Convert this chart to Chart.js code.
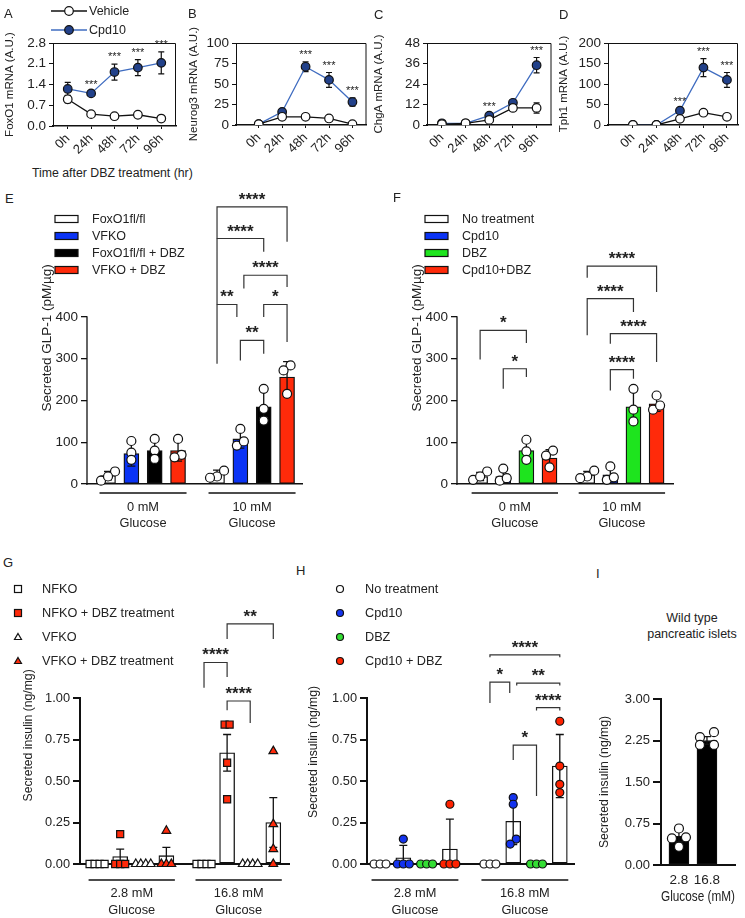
<!DOCTYPE html>
<html>
<head>
<meta charset="utf-8">
<title>FoxO1 / DBZ figure</title>
<script src="https://cdn.jsdelivr.net/npm/chart.js@4.4.1/dist/chart.umd.min.js"></script>
<style>
  html, body { margin: 0; padding: 0; background: #fff; }
  body { position: relative; width: 745px; height: 918px; overflow: hidden; font-family: "Liberation Sans", Arial, sans-serif; color: #222; }
  canvas { position: absolute; }
  .t { position: absolute; white-space: nowrap; line-height: 1; }
  svg { position: absolute; left: 0; top: 0; }
</style>
</head>
<body>
<script>
// ---- A-D: mRNA time course after DBZ
const timeLabels = ['0h', '24h', '48h', '72h', '96h'];
const foxo1Veh = [0.9, 0.4, 0.33, 0.38, 0.25];
const foxo1VehErr = [0.12, 0.04, 0.03, 0.04, 0.03];
const foxo1Cpd = [1.25, 1.1, 1.82, 1.97, 2.13];
const foxo1CpdErr = [0.22, 0.06, 0.27, 0.27, 0.37];
const neurog3Veh = [1, 10, 10, 8, 1];
const neurog3VehErr = [0.5, 1, 1, 1, 0.5];
const neurog3Cpd = [1, 16, 71, 55, 28];
const neurog3CpdErr = [0.5, 2, 6, 9, 5];
const chgaVeh = [0.5, 1, 3, 10, 10];
const chgaVehErr = [0.3, 0.3, 0.5, 1, 3];
const chgaCpd = [1, 1, 5.5, 13, 35];
const chgaCpdErr = [0.3, 0.3, 1, 1, 4.5];
const tph1Veh = [0, 0, 15, 30, 20];
const tph1VehErr = [0, 0, 2, 3, 3];
const tph1Cpd = [0, 0, 35, 140, 110];
const tph1CpdErr = [0, 0, 5, 22, 18];
const starsA = ['', '***', '***', '***', '***'];
const starsB = ['', '', '***', '***', '***'];
const starsC = ['', '', '***', '', '***'];
const starsD = ['', '', '***', '***', '***'];

// ---- E: GLP-1 secretion, genotype x DBZ   [series][glucose group]
const glucoseEF = [['0 mM', 'Glucose'], ['10 mM', 'Glucose']];
const groupsE = ['FoxO1fl/fl', 'VFKO', 'FoxO1fl/fl + DBZ', 'VFKO + DBZ'];
const meanE = [[20, 25], [73, 108], [80, 185], [80, 256]];
const sdE = [[10, 8], [30, 22], [25, 40], [25, 37]];
const ptsE = [
  [[30, 8, 18], [32, 18, 15]],
  [[103, 75, 58], [132, 92, 102]],
  [[108, 80, 60], [228, 180, 152]],
  [[108, 70, 64], [284, 272, 216]]
];
// [group, from bar, to bar, bracket y, left leg end, right leg end, label]
const sigE = [
  [1, 0, 3, 664, 588, 580, '****'],
  [1, 0, 2, 588, 430, 556, '****'],
  [1, 1.15, 3, 500, 468, 472, '****'],
  [1, 0, 0.85, 430, 288, 400, '**'],
  [1, 2, 3, 430, 400, 340, '*'],
  [1, 1, 2, 344, 296, 312, '**']
];

// ---- F: GLP-1 secretion, Cpd10 x DBZ
const groupsF = ['No treatment', 'Cpd10', 'DBZ', 'Cpd10+DBZ'];
const meanF = [[18, 22], [18, 22], [80, 185], [62, 192]];
const sdF = [[10, 8], [14, 16], [25, 38], [20, 18]];
const ptsF = [
  [[30, 10, 18], [32, 18, 14]],
  [[37, 8, 14], [42, 10, 16]],
  [[106, 78, 58], [228, 178, 150]],
  [[80, 68, 40], [212, 178, 188]]
];
const sigF = [
  [0, 0, 2, 368, 298, 338, '*'],
  [0, 1, 2, 276, 228, 256, '*'],
  [1, 0, 3, 522, 494, 460, '****'],
  [1, 0, 2, 444, 356, 412, '****'],
  [1, 1, 3, 360, 336, 292, '****'],
  [1, 1, 2, 274, 224, 252, '****']
];

// ---- G: insulin secretion, NFKO / VFKO
const glucoseGH = [['2.8 mM', 'Glucose'], ['16.8 mM', 'Glucose']];
const groupsG = ['NFKO', 'NFKO + DBZ treatment', 'VFKO', 'VFKO + DBZ treatment'];
const meanG = [[0, 0], [0.045, 0.67], [0, 0], [0.05, 0.25]];
const semG = [[0, 0], [0.045, 0.11], [0, 0], [0.05, 0.15]];
const ptsG = [
  [[0, 0, 0, 0], [0, 0, 0, 0]],
  [[0.18, 0, 0, 0], [0.84, 0.84, 0.61, 0.39]],
  [[0, 0, 0, 0], [0, 0, 0, 0]],
  [[0.2, 0, 0, 0], [0.68, 0.24, 0.09, 0]]
];
const sigG = [
  [1, 1, 3, 1.446, 1.356, 1.356, '**'],
  [1, 0, 1, 1.214, 1.062, 1.126, '****'],
  [1, 1, 2, 0.982, 0.926, 0.85, '****']
];

// ---- H: insulin secretion, Cpd10 x DBZ
const groupsH = ['No treatment', 'Cpd10', 'DBZ', 'Cpd10 + DBZ'];
const meanH = [[0, 0], [0.0375, 0.2575], [0, 0], [0.09, 0.59]];
const sdH = [[0, 0], [0.075, 0.14], [0, 0], [0.18, 0.19]];
const ptsH = [
  [[0, 0, 0], [0, 0, 0]],
  [[0.15, 0, 0, 0], [0.40, 0.36, 0.15, 0.12]],
  [[0, 0, 0], [0, 0, 0]],
  [[0.36, 0, 0, 0], [0.86, 0.59, 0.48, 0.43]]
];
const sigH = [
  [1, 0, 3, 1.26, 1.245, 1.245, '****'],
  [1, 0, 0.85, 1.096, 0.97, 1.03, '*'],
  [1, 1.15, 3, 1.09, 1.075, 1.075, '**'],
  [1, 2, 3, 0.942, 0.925, 0.925, '****'],
  [1, 1, 2, 0.716, 0.626, 0.41, '*']
];

// ---- I: wild type islets
const glucoseI = ['2.8', '16.8'];
const meanI = [[0.52, 2.25]];
const semI = [[0.1, 0.07]];
const ptsI = [[[0.66, 0.50, 0.48, 0.33], [2.31, 2.40, 2.17, 2.17]]];

const FONT = '"Liberation Sans", Arial, Helvetica, sans-serif';
Chart.defaults.font.family = FONT;
Chart.defaults.color = '#222';
Chart.defaults.animation = false;
Chart.defaults.responsive = false;
Chart.defaults.events = [];
Chart.defaults.plugins.legend.display = false;
Chart.defaults.plugins.tooltip.enabled = false;

function makeCanvas([left, top, w, h]) {
  const c = document.createElement('canvas');
  c.width = w; c.height = h;
  c.style.left = left + 'px'; c.style.top = top + 'px';
  c.style.width = w + 'px'; c.style.height = h + 'px';
  document.body.appendChild(c);
  return c;
}

function whisker(ctx, px, y0, y1, cap) {
  ctx.beginPath();
  ctx.moveTo(px, y0); ctx.lineTo(px, y1);
  ctx.moveTo(px - cap, y1); ctx.lineTo(px + cap, y1);
  ctx.moveTo(px - cap, y0); ctx.lineTo(px + cap, y0);
  ctx.stroke();
}

// error bars under the markers, frame + stars on top
const timecourse = {
  id: 'timecourse',
  beforeDatasetsDraw(chart) {
    const { ctx, scales: { x, y } } = chart;
    ctx.save();
    ctx.strokeStyle = '#111'; ctx.lineWidth = 1.2;
    chart.data.datasets.forEach(ds => ds.data.forEach((p, i) => {
      const e = ds.errs[i];
      if (!e) return;
      whisker(ctx, x.getPixelForValue(p.x), y.getPixelForValue(Math.max(0, p.y - e)), y.getPixelForValue(p.y + e), 3);
    }));
    ctx.restore();
  },
  afterDatasetsDraw(chart, args, opts) {
    const { ctx, chartArea: a, scales: { x, y } } = chart;
    ctx.save();
    ctx.strokeStyle = '#111'; ctx.lineWidth = 1;
    ctx.beginPath();
    ctx.moveTo(a.left, a.top + 0.5); ctx.lineTo(a.right - 0.5, a.top + 0.5); ctx.lineTo(a.right - 0.5, a.bottom);
    ctx.stroke();
    const ds = chart.data.datasets[1];
    ctx.fillStyle = '#222'; ctx.textAlign = 'center';
    ctx.font = '11px ' + FONT;
    opts.stars.forEach((s, i) => {
      if (!s) return;
      const p = ds.data[i];
      ctx.fillText(s, x.getPixelForValue(p.x), y.getPixelForValue(p.y + ds.errs[i]) - 4);
    });
    ctx.restore();
  }
};

function timeCourse(o) {
  const xs = timeLabels.map((_, i) => i);
  const series = (vals, errs, line, fill) => ({
    data: xs.map(i => ({ x: i, y: vals[i] })),
    errs,
    borderColor: line, borderWidth: 1.3,
    pointRadius: 4.3, pointBackgroundColor: fill, pointBorderColor: '#111', pointBorderWidth: 1.2
  });
  return new Chart(makeCanvas(o.box), {
    type: 'line',
    data: { datasets: [series(o.veh, o.vehErr, '#111', '#fff'), series(o.cpd, o.cpdErr, '#3f6cc0', '#22418a')] },
    options: {
      layout: { padding: { left: 0, top: o.pt, right: o.pr, bottom: 0 } },
      scales: {
        x: {
          type: 'linear', min: o.xMin, max: o.xMax, offset: false,
          afterBuildTicks: s => { s.ticks = xs.map(v => ({ value: v })); },
          afterFit: s => { s.height = o.xh; },
          ticks: { callback: v => timeLabels[v], minRotation: 45, maxRotation: 45, autoSkip: false, font: { size: 13 }, padding: 2 },
          grid: { drawOnChartArea: false, tickLength: 3, color: '#111' },
          border: { color: '#111', width: 1.5, dash: [2, 2] }
        },
        y: {
          min: 0, max: o.yMax,
          afterBuildTicks: s => { s.ticks = o.yTicks.map(v => ({ value: v })); },
          afterFit: s => { s.width = o.yw; },
          ticks: { callback: v => v.toFixed(o.dec), font: { size: 13.5 }, padding: 3 },
          grid: { drawOnChartArea: false, tickLength: 4, color: '#111' },
          border: { color: '#111', width: 1 },
          title: { display: true, text: o.title, font: { size: 11.5 }, padding: { top: 3, bottom: 0 } }
        }
      },
      plugins: { timecourse: { stars: o.stars } }
    },
    plugins: [timecourse]
  });
}

timeCourse({ box: [0, 0, 186, 160], yw: 53, pt: 43, xh: 34, pr: 10, xMin: -0.63, xMax: 4.63,
  yMax: 2.8, yTicks: [0, 0.7, 1.4, 2.1, 2.8], dec: 1, title: 'FoxO1 mRNA (A.U.)',
  veh: foxo1Veh, vehErr: foxo1VehErr, cpd: foxo1Cpd, cpdErr: foxo1CpdErr, stars: starsA });
timeCourse({ box: [184, 0, 188, 160], yw: 52, pt: 43, xh: 35, pr: 4, xMin: -0.97, xMax: 4.6,
  yMax: 100, yTicks: [0, 25, 50, 75, 100], dec: 0, title: 'Neurog3 mRNA (A.U.)',
  veh: neurog3Veh, vehErr: neurog3VehErr, cpd: neurog3Cpd, cpdErr: neurog3CpdErr, stars: starsB });
timeCourse({ box: [369, 0, 188, 160], yw: 58, pt: 43, xh: 35, pr: 4, xMin: -0.63, xMax: 4.63,
  yMax: 48, yTicks: [0, 12, 24, 36, 48], dec: 0, title: 'ChgA mRNA (A.U.)',
  veh: chgaVeh, vehErr: chgaVehErr, cpd: chgaCpd, cpdErr: chgaCpdErr, stars: starsC });
timeCourse({ box: [554, 0, 191, 160], yw: 54, pt: 43, xh: 35, pr: 7, xMin: -1.06, xMax: 4.47,
  yMax: 200, yTicks: [0, 50, 100, 150, 200], dec: 0, title: 'Tph1 mRNA (A.U.)',
  veh: tph1Veh, vehErr: tph1VehErr, cpd: tph1Cpd, cpdErr: tph1CpdErr, stars: starsD });

// dots that sit on the same row get spread sideways, like the original scatter
function spread(vals, o) {
  const idx = vals.map((_, i) => i).sort((a, b) => vals[a] - vals[b]);
  const offs = vals.map(() => 0);
  let row = [];
  const flush = () => { row.forEach((i, k) => { offs[i] = (k - (row.length - 1) / 2) * o.step / o.pxX; }); row = []; };
  idx.forEach(i => {
    if (row.length && (vals[i] - vals[row[row.length - 1]]) * o.pxY >= o.tol) flush();
    row.push(i);
  });
  flush();
  return offs;
}

const barDeco = {
  id: 'barDeco',
  afterDatasetDraw(chart, args, o) {
    if (args.index !== 0) return;  // bar 0 is the last bar painted
    const { ctx, scales: { x, y } } = chart;
    ctx.save();
    ctx.strokeStyle = '#111'; ctx.lineWidth = o.errW;
    chart.data.datasets.forEach(ds => {
      if (!ds.errs) return;
      ds.data.forEach((p, i) => {
        const e = ds.errs[i];
        if (!e) return;
        whisker(ctx, x.getPixelForValue(p.x), y.getPixelForValue(Math.max(0, p.y - e)), y.getPixelForValue(p.y + e), o.cap);
      });
    });
    ctx.restore();
  },
  afterDraw(chart, args, o) {
    const { ctx, chartArea: a, scales: { x, y } } = chart;
    const base = y.getPixelForValue(0);
    ctx.save();
    ctx.strokeStyle = '#111'; ctx.lineWidth = o.axisW;
    ctx.beginPath();
    ctx.moveTo(a.left, base + o.axisW / 2); ctx.lineTo(a.left, y.getPixelForValue(o.axisMax) - o.axisW / 2);
    ctx.stroke();

    ctx.strokeStyle = '#333'; ctx.lineWidth = 1.2;
    ctx.fillStyle = '#222'; ctx.textAlign = 'center';
    ctx.font = 'bold 17px ' + FONT;
    o.sig.forEach(([g, i, j, v, la, lb, txt]) => {
      const xa = x.getPixelForValue(g * o.gap + i), xb = x.getPixelForValue(g * o.gap + j), yv = y.getPixelForValue(v);
      ctx.beginPath();
      ctx.moveTo(xa, y.getPixelForValue(la)); ctx.lineTo(xa, yv); ctx.lineTo(xb, yv); ctx.lineTo(xb, y.getPixelForValue(lb));
      ctx.stroke();
      ctx.fillText(txt, (xa + xb) / 2, yv - 2);
    });

    if (o.groups) {
      ctx.strokeStyle = '#111'; ctx.lineWidth = 1.3;
      ctx.font = o.groupFont + 'px ' + FONT; ctx.textBaseline = 'middle';
      o.groups.forEach((lines, g) => {
        const xa = x.getPixelForValue(g * o.gap) - o.barW / 2 - 1;
        const xb = x.getPixelForValue(g * o.gap + o.nS - 1) + o.barW / 2 + 1;
        ctx.beginPath(); ctx.moveTo(xa, base + o.gLine); ctx.lineTo(xb, base + o.gLine); ctx.stroke();
        lines.forEach((s, k) => ctx.fillText(s, (xa + xb) / 2, base + o.gText[k]));
      });
    }
    ctx.restore();
  }
};

function barPanel(o) {
  const nS = o.mean.length;
  const pos = (g, s) => g * o.gap + s;
  const bars = o.mean.map((m, s) => ({
    type: 'bar',
    data: m.map((v, g) => ({ x: pos(g, s), y: v })),
    errs: o.err[s],
    backgroundColor: o.fill[s], borderColor: '#111', borderWidth: o.barLine, borderSkipped: false,
    barThickness: o.barW, grouped: false, order: 100 + s
  }));
  const dots = o.pts.map((groups, s) => ({
    type: 'scatter',
    data: groups.flatMap((vals, g) => {
      const offs = spread(vals, o);
      return vals.map((v, k) => ({ x: pos(g, s) + offs[k], y: v }));
    }),
    pointStyle: o.shape[s], pointRadius: o.r,
    pointBackgroundColor: o.dotFill[s], pointBorderColor: '#111', pointBorderWidth: 1.2,
    clip: false, order: s
  }));
  const xLab = o.xLabels || [];
  return new Chart(makeCanvas(o.box), {
    type: 'bar',
    data: { datasets: [...bars, ...dots] },
    options: {
      layout: { padding: { left: 0, top: o.pt, right: o.pr, bottom: 0 } },
      scales: {
        x: {
          type: 'linear', min: o.xMin, max: o.xMax, offset: false,
          afterBuildTicks: s => { s.ticks = (xLab.length ? xLab : ['']).map((_, i) => ({ value: i * o.gap })); },
          afterFit: s => { s.height = o.xh; },
          ticks: { display: xLab.length > 0, callback: (v, i) => xLab[i], font: { size: 13.5 }, padding: 7, maxRotation: 0, autoSkip: false },
          grid: { display: false, drawTicks: false, tickLength: 0 },
          border: { color: '#111', width: o.baseW, dash: o.baseDash },
          title: { display: !!o.xTitle, text: o.xTitle || '', font: { size: 14.5 }, padding: { top: 0, bottom: 12 } }
        },
        y: {
          min: 0, max: o.yMax,
          afterBuildTicks: s => { s.ticks = o.yTicks.map(v => ({ value: v })); },
          afterFit: s => { s.width = o.yw; },
          ticks: { callback: v => v.toFixed(o.dec), font: { size: o.tick }, padding: 3 },
          grid: { drawOnChartArea: false, tickLength: o.tickLen, color: '#111', lineWidth: o.axisW },
          border: { display: false },
          title: { display: true, text: o.yTitle, font: { size: o.titleSize }, padding: { top: 4, bottom: 0 } }
        }
      },
      plugins: {
        barDeco: { errW: o.errW, cap: o.cap, axisW: o.axisW, axisMax: o.axisMax, sig: o.sig || [], gap: o.gap,
          groups: o.groups, groupFont: 12.8, gLine: o.gLine, gText: o.gText, barW: o.barW, nS }
      }
    },
    plugins: [barDeco]
  });
}

const glpCommon = {
  yMax: 700, axisMax: 400, yTicks: [0, 100, 200, 300, 400], dec: 0, tick: 13.5, tickLen: 6,
  yTitle: 'Secreted GLP-1 (pM/\u00b5g)', titleSize: 13.5, pt: 11.75, xh: 56,
  barW: 15, barLine: 1.3, errW: 1.3, cap: 4, axisW: 1.3, baseW: 1.5, baseDash: [2, 2],
  r: 4.5, step: 7, tol: 7, pxY: 167 / 400, shape: ['circle', 'circle', 'circle', 'circle'],
  dotFill: ['#fff', '#fff', '#fff', '#fff'], groups: glucoseEF, gLine: 9, gText: [23, 39]
};
barPanel({ ...glpCommon, box: [35, 180, 303, 360], yw: 52, pr: 36, xMin: -0.9, xMax: 8.31, gap: 4.67, pxX: 23.3,
  mean: meanE, err: sdE, pts: ptsE, sig: sigE, fill: ['#fff', '#0a33f5', '#000', '#ff2a0a'] });
barPanel({ ...glpCommon, box: [405, 180, 300, 360], yw: 52, pr: 32, xMin: -1.0, xMax: 8.34, gap: 4.63, pxX: 23.1,
  mean: meanF, err: sdF, pts: ptsF, sig: sigF, fill: ['#fff', '#0a33f5', '#1ee41e', '#ff2a0a'] });

const insCommon = {
  yMax: 1.55, axisMax: 1, yTicks: [0, 0.25, 0.5, 0.75, 1], dec: 2, tick: 12.8, tickLen: 7,
  yTitle: 'Secreted insulin (ng/mg)', titleSize: 12.2, xh: 54,
  barW: 15, barLine: 1.3, errW: 1.3, cap: 4, axisW: 2, baseW: 2, baseDash: [],
  pxY: 166, groups: glucoseGH, gLine: 16, gText: [29, 46], fill: ['#fff', '#fff', '#fff', '#fff']
};
barPanel({ ...insCommon, box: [17, 590, 290, 328], yw: 63, pt: 16.7, pr: 18, xMin: -0.74, xMax: 8.31, gap: 4.63, pxX: 23.1,
  mean: meanG, err: semG, pts: ptsG, sig: sigG, r: 5, step: 5, tol: 6,
  shape: ['rect', 'rect', 'triangle', 'triangle'], dotFill: ['#fff', '#ff2a0a', '#fff', '#ff2a0a'] });
barPanel({ ...insCommon, box: [302, 600, 280, 318], yw: 65, pt: 39.9, yMax: 1.35, pr: 8, xMin: -0.56, xMax: 8.33, gap: 4.72, pxX: 23.3,
  mean: meanH, err: sdH, pts: ptsH, sig: sigH, r: 4, step: 6, tol: 6,
  shape: ['circle', 'circle', 'circle', 'circle'], dotFill: ['#fff', '#1433ee', '#33dd33', '#ff2200'] });
barPanel({ box: [593, 650, 152, 268], yw: 68, pt: 49, xh: 53, pr: 10, xMin: -0.64, xMax: 2.0, gap: 1, pxX: 28, pxY: 166 / 3,
  yMax: 3, axisMax: 3, yTicks: [0, 0.75, 1.5, 2.25, 3], dec: 2, tick: 13, tickLen: 8,
  yTitle: 'Secreted insulin (ng/mg)', titleSize: 12.2, xLabels: glucoseI, xTitle: 'Glucose (mM)',
  barW: 20, barLine: 1, errW: 1.3, cap: 4, axisW: 2, baseW: 2, baseDash: [],
  mean: meanI, err: semI, pts: ptsI, r: 4.5, step: 14, tol: 7,
  shape: ['circle'], dotFill: ['#fff'], fill: ['#000'] });

// ---- legends, panel letters, titles
function label(text, x, y, size, center) {
  const d = document.createElement('div');
  d.className = 't';
  d.textContent = text;
  d.style.left = x + 'px'; d.style.top = y + 'px'; d.style.fontSize = size + 'px';
  d.style.transform = center ? 'translate(-50%,-50%)' : 'translateY(-50%)';
  document.body.appendChild(d);
}
[['A', 4, 13], ['B', 188, 13], ['C', 374, 14], ['D', 559, 14], ['E', 5, 198], ['F', 393, 197],
 ['G', 3, 562], ['H', 296, 570], ['I', 596, 573]].forEach(([t, x, y]) => label(t, x, y, 13));
label('Vehicle', 89, 11, 12.5);
label('Cpd10', 89, 30, 12.5);
label('Time after DBZ treatment (hr)', 32, 173, 12.3);
label('Wild type', 692, 618, 12.5, true);
label('pancreatic islets', 692, 634, 12.5, true);

const rowsEF = [219, 236, 253, 270];
const rowsGH = [589, 613, 637, 661];
groupsE.forEach((t, i) => label(t, 92, rowsEF[i], 12.5));
groupsF.forEach((t, i) => label(t, 462, rowsEF[i], 12.5));
groupsG.forEach((t, i) => label(t, 42, rowsGH[i], 12.7));
groupsH.forEach((t, i) => label(t, 365, rowsGH[i], 12.7));

const fillE = ['#fff', '#0a33f5', '#000', '#ff2a0a'];
const fillF = ['#fff', '#0a33f5', '#1ee41e', '#ff2a0a'];
const marks = [
  '<line x1="51" y1="11" x2="87" y2="11" stroke="#111" stroke-width="1.3"/>',
  '<circle cx="69" cy="11" r="4.3" fill="#fff" stroke="#111" stroke-width="1.2"/>',
  '<line x1="51" y1="30" x2="87" y2="30" stroke="#3f6cc0" stroke-width="1.3"/>',
  '<circle cx="69" cy="30" r="4.3" fill="#22418a" stroke="#111" stroke-width="1.2"/>'
];
rowsEF.forEach((y, i) => {
  marks.push(`<rect x="55" y="${y - 3.5}" width="23" height="7" fill="${fillE[i]}" stroke="#111" stroke-width="1.2"/>`);
  marks.push(`<rect x="425" y="${y - 3.5}" width="23" height="7" fill="${fillF[i]}" stroke="#111" stroke-width="1.2"/>`);
});
const gFill = ['#fff', '#ff2a0a', '#fff', '#ff2a0a'];
const hFill = ['#fff', '#1433ee', '#33dd33', '#ff2200'];
rowsGH.forEach((y, i) => {
  if (i < 2) marks.push(`<rect x="14.5" y="${y - 3.5}" width="7" height="7" fill="${gFill[i]}" stroke="#111" stroke-width="1.2"/>`);
  else marks.push(`<polygon points="18,${y - 3.5} 21.5,${y + 2.5} 14.5,${y + 2.5}" fill="${gFill[i]}" stroke="#111" stroke-width="1.2"/>`);
  marks.push(`<circle cx="340" cy="${y}" r="3.5" fill="${hFill[i]}" stroke="#111" stroke-width="1.2"/>`);
});
document.body.insertAdjacentHTML('beforeend',
  `<svg width="745" height="918" viewBox="0 0 745 918">${marks.join('')}</svg>`);
</script>
</body>
</html>
